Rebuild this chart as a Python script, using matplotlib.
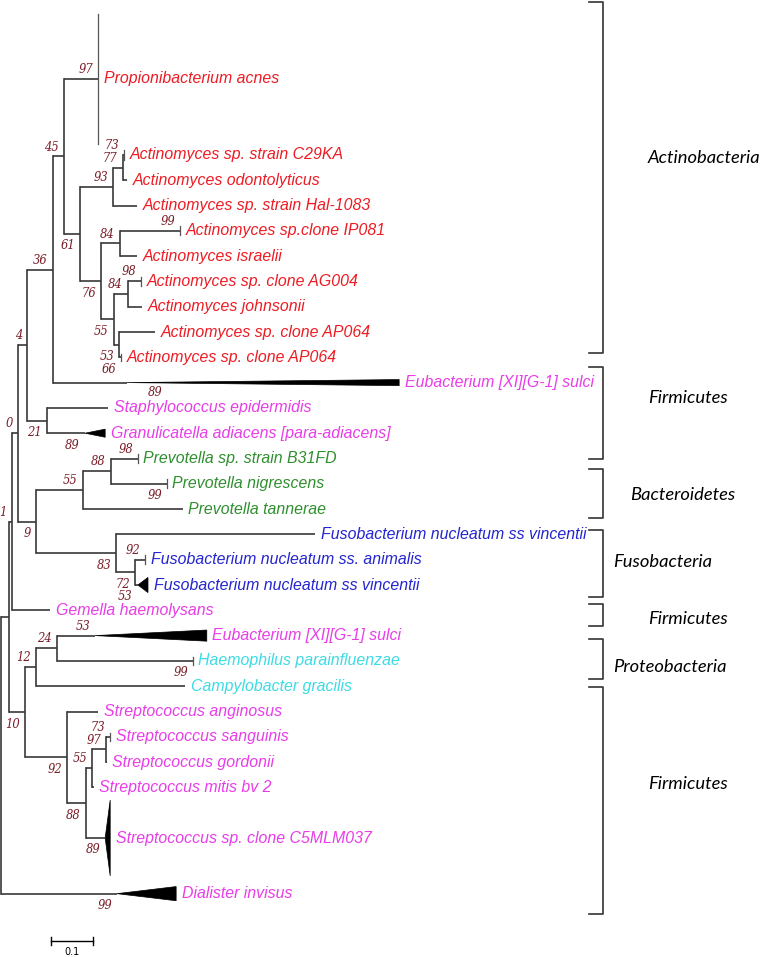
import matplotlib
matplotlib.use('Agg')
import matplotlib.pyplot as plt
from matplotlib.patches import Polygon
import matplotlib.transforms as mtransforms

# ---- tree data (branch lengths in substitutions/site) ----
node_names = ['nX', 'n1', 'n0', 'n4', 'n36', 'n45', 'n61', 'n93', 'n77',
              'n76', 'n84a', 'n55a', 'n84b', 'n53', 'n21', 'n9', 'n55p',
              'n88p', 'n83', 'n92f', 'n10', 'n12', 'n24', 'n92s', 'n88s',
              'n55s', 'n97']
node_parents = ['root', 'nX', 'n1', 'n0', 'n4', 'n36', 'n45', 'n61', 'n93',
                'n61', 'n76', 'n76', 'n55a', 'n55a', 'n4', 'n0', 'n9',
                'n55p', 'n9', 'n83', 'nX', 'n10', 'n12', 'n10', 'n92s',
                'n88s', 'n55s']
node_lengths = [0.019, 0.007, 0.014, 0.022, 0.062, 0.026, 0.038, 0.079, 0.023,
                0.050, 0.045, 0.031, 0.033, 0.012, 0.048, 0.043, 0.112,
                0.067, 0.191, 0.045, 0.038, 0.026, 0.050, 0.100, 0.045,
                0.015, 0.033]

leaf_ids = ['prop', 'c29', 'odon', 'hal', 'ip081', 'isr', 'ag004', 'john',
            'ap64a', 'ap64b', 'eub1', 'staph', 'gran', 'b31', 'nigr', 'tann',
            'fv1', 'anim', 'fv2', 'gem', 'eub2', 'haem', 'campy', 'angi',
            'sang', 'gord', 'mitis', 'c5m', 'dial']
leaf_labels = ['Propionibacterium acnes', 'Actinomyces sp. strain C29KA',
               'Actinomyces odontolyticus', 'Actinomyces sp. strain Hal-1083',
               'Actinomyces sp.clone IP081', 'Actinomyces israelii',
               'Actinomyces sp. clone AG004', 'Actinomyces johnsonii',
               'Actinomyces sp. clone AP064', 'Actinomyces sp. clone AP064',
               'Eubacterium [XI][G-1] sulci', 'Staphylococcus epidermidis',
               'Granulicatella adiacens [para-adiacens]',
               'Prevotella sp. strain B31FD', 'Prevotella nigrescens',
               'Prevotella tannerae', 'Fusobacterium nucleatum ss vincentii',
               'Fusobacterium nucleatum ss. animalis',
               'Fusobacterium nucleatum ss vincentii', 'Gemella haemolysans',
               'Eubacterium [XI][G-1] sulci', 'Haemophilus parainfluenzae',
               'Campylobacter gracilis', 'Streptococcus anginosus',
               'Streptococcus sanguinis', 'Streptococcus gordonii',
               'Streptococcus mitis bv 2', 'Streptococcus sp. clone C5MLM037',
               'Dialister invisus']
leaf_parents = ['n45', 'n77', 'n77', 'n93', 'n84a', 'n84a', 'n84b', 'n84b',
                'n53', 'n53', 'n36', 'n21', 'n21', 'n88p', 'n88p', 'n55p',
                'n83', 'n92f', 'n92f', 'n1', 'n24', 'n24', 'n12', 'n92s',
                'n97', 'n97', 'n55s', 'n88s', 'root']
leaf_lengths = [0.081, 0.003, 0.010, 0.057, 0.143, 0.041, 0.031, 0.034,
                0.086, 0.005, 0.176, 0.145, 0.090, 0.064, 0.133, 0.238,
                0.474, 0.024, 0.007, 0.091, 0.091, 0.324, 0.355, 0.074,
                0.010, 0.002, 0.004, 0.046, 0.276]
leaf_rows = [0, 3, 4, 5, 6, 7, 8, 9, 10, 11, 12, 13, 14, 15, 16, 17, 18, 19,
             20, 21, 22, 23, 24, 25, 26, 27, 28, 30, 32.2]
leaf_groups = ['act'] * 10 + ['firm', 'firm', 'firm', 'bact', 'bact', 'bact',
               'fuso', 'fuso', 'fuso', 'firm', 'firm', 'prot', 'prot',
               'firm', 'firm', 'firm', 'firm', 'firm', 'firm']
# collapsed subtrees: depth spanned and half height (rows)
clade_depth = [0, 0, 0, 0, 0, 0, 0, 0, 0, 0, 0.648, 0, 0.048, 0, 0, 0,
               0, 0, 0.024, 0, 0.266, 0, 0, 0, 0, 0, 0, 0.012, 0.141]
clade_half = [2.55, 0.2, 0, 0, 0.17, 0, 0.17, 0, 0, 0.15, 0.12, 0, 0.16,
              0.17, 0.17, 0, 0, 0.17, 0.3, 0, 0.22, 0.17, 0, 0, 0.15, 0, 0,
              1.5, 0.28]

boot_keys = ['n45', 'prop', 'n77', 'c29', 'n93', 'n61', 'n36', 'ip081',
             'n84a', 'ag004', 'n84b', 'n76', 'n55a', 'n53', 'ap64b', 'n4',
             'staph', 'n0', 'n21', 'gran', 'b31', 'n88p', 'n55p', 'nigr',
             'n1', 'n9', 'anim', 'n83', 'n92f', 'fv2', 'eub2', 'n24', 'n12',
             'haem', 'n10', 'sang', 'n97', 'n55s', 'n92s', 'n88s', 'c5m',
             'dial']
boot_values = ['45', '97', '77', '73', '93', '61', '36', '99', '84', '98',
               '84', '76', '55', '53', '66', '4', '89', '0', '21', '89', '98',
               '88', '55', '99', '1', '9', '92', '83', '72', '53', '53', '24',
               '12', '99', '10', '73', '97', '55', '92', '88', '89', '99']
boot_below = ['n61', 'n76', 'n55a', 'n53', 'ap64b', 'n21', 'gran', 'nigr',
              'n9', 'n83', 'n92f', 'fv2', 'haem', 'n10', 'n92s', 'n88s',
              'c5m', 'dial']

group_names = ['Actinobacteria', 'Firmicutes', 'Bacteroidetes', 'Fusobacteria',
               'Firmicutes', 'Proteobacteria', 'Firmicutes']
group_top = [-3.05, 11.38, 15.4, 17.83, 20.75, 22.13, 24.03]
group_bottom = [10.83, 15.02, 17.35, 20.47, 21.62, 23.72, 33.0]
group_label_row = [3.12, 12.6, 16.44, 19.09, 21.34, 23.24, 27.87]
group_label_x = [0.851, 0.851, 0.828, 0.805, 0.851, 0.805, 0.851]

colors = {'act': '#ed1c24', 'firm': '#e83de8', 'bact': '#2f8f2f',
          'fuso': '#2424d0', 'prot': '#3ddbe4'}
line_c = '#383838'
boot_c = '#7b1e28'

# ---- layout ----
fig = plt.figure(figsize=(7.61, 9.57), dpi=100)
ax = fig.add_axes([0, 0, 1, 1])
ax.set_xlim(-1 / 420, 760 / 420)
ax.set_ylim((957 - 79) / 25.3, -79 / 25.3)
ax.axis('off')

parent = dict(zip(node_names, node_parents))
parent.update(zip(leaf_ids, leaf_parents))
blen = dict(zip(node_names, node_lengths))
blen.update(zip(leaf_ids, leaf_lengths))
children = {}
for k in node_names + leaf_ids:
    children.setdefault(parent[k], []).append(k)

depth = {'root': 0.0}
def get_depth(k):
    if k not in depth:
        depth[k] = get_depth(parent[k]) + blen[k]
    return depth[k]
for k in node_names + leaf_ids:
    get_depth(k)

ypos = dict(zip(leaf_ids, leaf_rows))
def get_y(k):
    if k not in ypos:
        ys = [get_y(c) for c in children[k]]
        ypos[k] = (min(ys) + max(ys)) / 2
    return ypos[k]
get_y('root')

lw = 1.2
for k in node_names + leaf_ids:
    ax.plot([depth[parent[k]], depth[k]], [ypos[k], ypos[k]], color=line_c,
            lw=lw, solid_capstyle='butt')
for k, ch in children.items():
    ys = [ypos[c] for c in ch]
    ax.plot([depth[k], depth[k]], [min(ys), max(ys)], color=line_c, lw=lw,
            solid_capstyle='projecting')

for i, k in enumerate(leaf_ids):
    x0, y0 = depth[k], ypos[k]
    L, h = clade_depth[i], clade_half[i]
    if h > 0 and L > 0:
        ax.add_patch(Polygon([(x0, y0), (x0 + L, y0 - h), (x0 + L, y0 + h)],
                             closed=True, facecolor='black', edgecolor='black',
                             lw=0.5))
    elif h > 0:
        ax.plot([x0, x0], [y0 - h, y0 + h], color='#555555', lw=0.9)
    ax.annotate(leaf_labels[i], (x0 + L, y0), xytext=(4, 0),
                textcoords='offset points', ha='left', va='center',
                fontsize=11.4, style='italic', family='Liberation Sans',
                color=colors[leaf_groups[i]])

special = {'staph': (34, -11, 'center')}
for k, v in zip(boot_keys, boot_values):
    if k in special:
        dx, dy, ha = special[k]
    else:
        dx, dy, ha = -3.6, (8.6 if k in boot_below else -6.8), 'right'
    ax.annotate(v, (depth[k], ypos[k]), xytext=(dx, -dy),
                textcoords='offset points', ha=ha, va='center',
                fontsize=8.3, style='italic', family='DejaVu Serif',
                color=boot_c)

# clade brackets
trans = mtransforms.blended_transform_factory(ax.transAxes, ax.transData)
for name, t, b, ly, lx in zip(group_names, group_top, group_bottom,
                              group_label_row, group_label_x):
    ax.plot([0.774, 0.7924, 0.7924, 0.774], [t, t, b, b], color='#333333',
            lw=1.2, transform=trans)
    ax.text(lx, ly, name, transform=trans, ha='left', va='center',
            fontsize=13.2, style='italic', family='Lato', color='black')

# scale bar
sb_x, sb_len, sb_row = 0.119, 0.1, 34.07
ax.plot([sb_x, sb_x + sb_len], [sb_row, sb_row], color='black', lw=1)
for xx in (sb_x, sb_x + sb_len):
    ax.plot([xx, xx], [sb_row - 0.16, sb_row + 0.16], color='black', lw=1)
ax.text(sb_x + sb_len / 2, sb_row + 0.42, '0.1', ha='center', va='center',
        fontsize=7, family='DejaVu Sans')

fig.savefig('out.png', dpi=100)
